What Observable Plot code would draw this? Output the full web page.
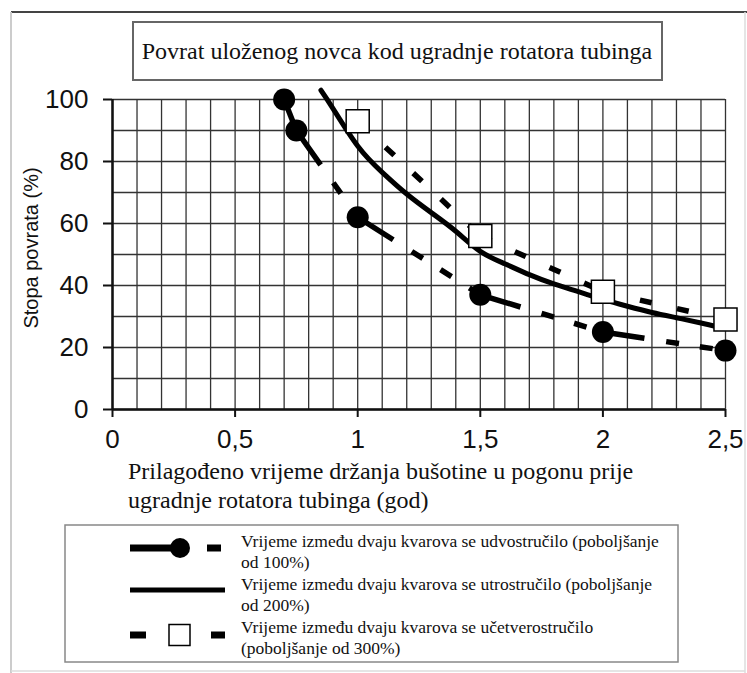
<!DOCTYPE html>
<html><head><meta charset="utf-8">
<script src="https://cdn.jsdelivr.net/npm/d3@7"></script>
<script src="https://cdn.jsdelivr.net/npm/@observablehq/plot@0.6"></script>
<style>body{margin:0;background:#fff}</style>
</head><body><div id="chart"></div>
<script>
const title = "Povrat uloženog novca kod ugradnje rotatora tubinga";
const xTitle = ["Prilagođeno vrijeme držanja bušotine u pogonu prije", "ugradnje rotatora tubinga (god)"];
const yTitle = "Stopa povrata (%)";
const xTicks = [0, 0.5, 1, 1.5, 2, 2.5];
const yTicks = [0, 20, 40, 60, 80, 100];
const xGrid = [0,0.1,0.2,0.3,0.4,0.5,0.6,0.7,0.8,0.9,1,1.1,1.2,1.3,1.4,1.5,1.6,1.7,1.8,1.9,2,2.1,2.2,2.3,2.4,2.5];
const yGrid = [0,10,20,30,40,50,60,70,80,90,100];

// Series 1: improvement 100% (circles, long-dash/short-dash line)
const s1x = [0.7, 0.75, 1.0, 1.5, 2.0, 2.5];
const s1y = [100, 90, 62, 37, 25, 19];
// Series 2: improvement 200% (solid line, no markers)
const s2x = [0.85, 0.9, 1.0, 1.1, 1.2, 1.3, 1.4, 1.5, 1.6, 1.7, 1.8, 1.9, 2.0, 2.1, 2.2, 2.3, 2.4, 2.47];
const s2y = [103, 97, 85, 76.5, 69.5, 63.5, 57.5, 51, 47, 43.5, 40.5, 38, 35.5, 33.3, 31.3, 29.6, 27.9, 26.6];
// Series 3: improvement 300% (squares, short-dash line)
const s3x = [1.0, 1.5, 2.0, 2.5];
const s3y = [93, 56, 38, 29];

const legendLabels = [
  ["Vrijeme između dvaju kvarova se udvostručilo (poboljšanje", "od 100%)"],
  ["Vrijeme između dvaju kvarova se utrostručilo (poboljšanje", "od 200%)"],
  ["Vrijeme između dvaju kvarova se učetverostručilo", "(poboljšanje od 300%)"]
];

const pts = (xs, ys) => xs.map((x, i) => ({x, y: ys[i]}));
const segs = (xs, ys) => xs.slice(1).flatMap((x, i) => [{x: xs[i], y: ys[i], k: i}, {x, y: ys[i + 1], k: i}]);

const SANS = "'Liberation Sans', Arial, sans-serif";
const SERIF = "'Liberation Serif', 'Times New Roman', serif";

const plot = Plot.plot({
  width: 747, height: 673,
  marginLeft: 112, marginRight: 22, marginTop: 99, marginBottom: 264,
  x: {domain: [0, 2.5]},
  y: {domain: [0, 100]},
  style: {fontFamily: SANS, fontSize: "26px", color: "#111", background: "#fff", overflow: "visible"},
  marks: [
    Plot.ruleX(xGrid, {stroke: "#333", strokeWidth: 1.3}),
    Plot.ruleY(yGrid, {stroke: "#333", strokeWidth: 1.3}),
    Plot.ruleX([0], {stroke: "#111", strokeWidth: 2.5}),
    Plot.ruleY([0], {stroke: "#111", strokeWidth: 2.5}),
    Plot.axisX({ticks: xTicks, tickFormat: d => String(d).replace(".", ","), tickSize: 8, tickPadding: 12, fontSize: 26, strokeWidth: 2, label: null}),
    Plot.axisY({ticks: yTicks, tickSize: 9, tickPadding: 15, fontSize: 26, strokeWidth: 2, label: null}),
    Plot.line(pts(s2x, s2y), {x: "x", y: "y", curve: "natural", stroke: "#000", strokeWidth: 5}),
    Plot.line(segs(s3x, s3y), {x: "x", y: "y", z: "k", stroke: "#000", strokeWidth: 5.5, strokeLinecap: "butt", strokeDasharray: "12,26"}),
    Plot.line(segs(s1x, s1y), {x: "x", y: "y", z: "k", stroke: "#000", strokeWidth: 5.5, strokeLinecap: "butt", strokeDasharray: "42,22,13,21,13,21,13,200"}),
    Plot.dot(pts(s1x, s1y), {x: "x", y: "y", r: 11, fill: "#000"}),
    Plot.dot(pts(s3x, s3y), {x: "x", y: "y", r: 13, symbol: "square", fill: "#fff", stroke: "#000", strokeWidth: 1.5})
  ]
});

const svg = d3.select(plot);
const g = svg.append("g").attr("text-anchor", "start");
// outer frame
g.append("line").attr("x1", 11).attr("y1", 12).attr("x2", 747).attr("y2", 12).attr("stroke", "#444").attr("stroke-width", 2);
g.append("line").attr("x1", 11).attr("y1", 12).attr("x2", 11).attr("y2", 673).attr("stroke", "#ccc").attr("stroke-width", 2);
g.append("line").attr("x1", 745).attr("y1", 12).attr("x2", 745).attr("y2", 673).attr("stroke", "#ddd").attr("stroke-width", 1.5);
g.append("line").attr("x1", 11).attr("y1", 671).attr("x2", 745).attr("y2", 671).attr("stroke", "#ddd").attr("stroke-width", 1.5);
// title box
g.append("rect").attr("x", 133).attr("y", 22).attr("width", 529).attr("height", 58).attr("fill", "#fff").attr("stroke", "#666").attr("stroke-width", 2);
g.append("text").attr("x", 397).attr("y", 59).attr("text-anchor", "middle").attr("font-family", SERIF).attr("font-size", 24).attr("fill", "#111").text(title);
// axis titles
xTitle.forEach((t, i) => g.append("text").attr("x", 128).attr("y", 479 + i * 29).attr("text-anchor", "start").attr("font-family", SERIF).attr("font-size", 24).attr("fill", "#111").text(t));
g.append("text").attr("transform", "translate(31,248) rotate(-90)").attr("text-anchor", "middle").attr("dominant-baseline", "central").attr("font-family", SANS).attr("font-size", 20).attr("fill", "#111").text(yTitle);
// legend
g.append("rect").attr("x", 65).attr("y", 525).attr("width", 613).attr("height", 137).attr("fill", "#fff").attr("stroke", "#888").attr("stroke-width", 1.5);
const L = (x1, y, x2, w) => g.append("line").attr("x1", x1).attr("y1", y).attr("x2", x2).attr("y2", y).attr("stroke", "#000").attr("stroke-width", w);
L(130, 548, 180, 7); g.append("circle").attr("cx", 180).attr("cy", 548).attr("r", 10).attr("fill", "#000"); L(207, 548, 221, 7);
L(130, 590, 225, 5);
L(130, 635, 146, 7); g.append("rect").attr("x", 169).attr("y", 624.5).attr("width", 21).attr("height", 21).attr("fill", "#fff").attr("stroke", "#000").attr("stroke-width", 1.5); L(211, 635, 225, 7);
legendLabels.forEach((lines, r) => lines.forEach((t, j) =>
  g.append("text").attr("x", 241).attr("y", 547 + r * 43 + j * 21).attr("text-anchor", "start").attr("font-family", SERIF).attr("font-size", 17.5).attr("fill", "#111").text(t)));

document.getElementById("chart").appendChild(plot);
</script>
</body></html>
